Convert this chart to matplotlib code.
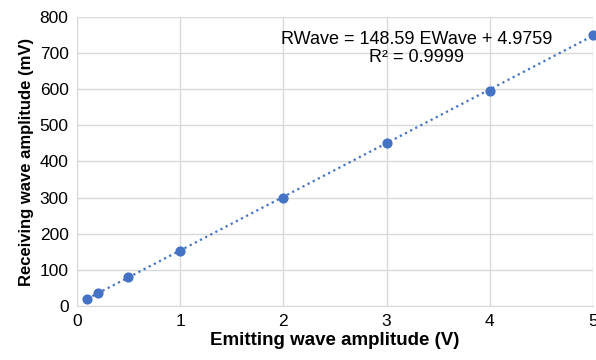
import numpy as np
import matplotlib
matplotlib.use("Agg")
import matplotlib.pyplot as plt

plt.rcParams['font.family'] = ['Liberation Sans', 'DejaVu Sans']

# data
emit_v = [0.1, 0.2, 0.5, 1, 2, 3, 4, 5]
recv_mv = [20, 35, 80, 153, 300, 452, 594, 750]
slope = 148.59
intercept = 4.9759
r2 = 0.9999

fig = plt.figure(figsize=(5.96, 3.6), dpi=100)
ax = fig.add_axes([0.129, 0.15, 0.866, 0.803])

blue = '#4472C4'
xs = np.array([emit_v[0], emit_v[-1]])
ax.plot(xs, slope * xs + intercept, linestyle=(0, (1, 1.6)), color=blue, linewidth=1.6, zorder=2)
ax.scatter(emit_v, recv_mv, s=40, color=blue, zorder=3, clip_on=False)

ax.set_xlim(0, 5)
ax.set_ylim(0, 800)
ax.set_xticks(range(0, 6))
ax.set_yticks(range(0, 801, 100))
ax.grid(True, color='#D9D9D9', linewidth=1)
ax.set_axisbelow(True)
for s in ['top', 'right']:
    ax.spines[s].set_visible(False)
for s in ['left', 'bottom']:
    ax.spines[s].set_color('#D9D9D9')
ax.tick_params(length=0, labelsize=12.5, pad=6)

ax.set_xlabel('Emitting wave amplitude (V)', fontsize=13.5, fontweight='bold', labelpad=2)
ax.set_ylabel('Receiving wave amplitude (mV)', fontsize=12, fontweight='bold', labelpad=4)

ax.text(3.29, 712, f'RWave = {slope} EWave + {intercept}\nR² = {r2}',
        ha='center', va='center', fontsize=13, linespacing=1.1)

fig.savefig('out.png', dpi=100)
